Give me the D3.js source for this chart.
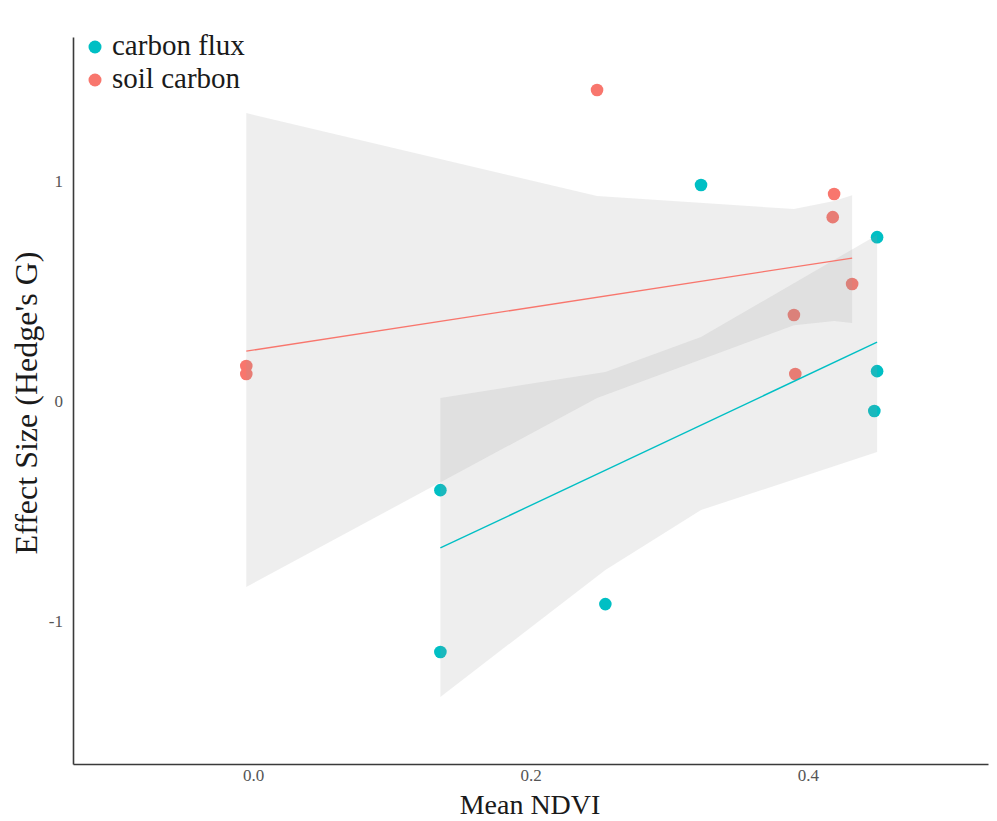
<!DOCTYPE html>
<html>
<head>
<meta charset="utf-8">
<script src="https://cdn.jsdelivr.net/npm/d3@7"></script>
<style>
  html, body { margin: 0; padding: 0; background: #ffffff; }
  svg { display: block; }
</style>
</head>
<body>
<svg id="chart" width="997" height="821"></svg>
<script>
// Groups and colours
const groups = ["carbon flux", "soil carbon"];
const groupColors = ["#00BFC4", "#F8766D"];

// Observations: mean NDVI vs effect size (Hedge's G)
const fluxNdvi   = [0.323, 0.450, 0.450, 0.448, 0.135, 0.254, 0.135];
const fluxEffect = [0.982, 0.745, 0.136, -0.045, -0.405, -0.923, -1.141];
const soilNdvi   = [-0.005, -0.005, 0.248, 0.419, 0.418, 0.432, 0.390, 0.391];
const soilEffect = [0.159, 0.123, 1.414, 0.941, 0.836, 0.532, 0.391, 0.123];

// Fitted lines (start and end of each fit)
const fluxFitX = [0.135, 0.450];
const fluxFitY = [-0.668, 0.268];
const soilFitX = [-0.005, 0.432];
const soilFitY = [0.227, 0.650];

// Confidence bands of each fit
const fluxBandX     = [0.135, 0.254, 0.323, 0.450];
const fluxBandUpper = [0.014, 0.132, 0.291, 0.755];
const fluxBandLower = [-1.345, -0.768, -0.495, -0.232];
const soilBandX     = [-0.005, 0.248, 0.390, 0.419, 0.432];
const soilBandUpper = [1.309, 0.932, 0.873, 0.909, 0.936];
const soilBandLower = [-0.845, 0.014, 0.345, 0.364, 0.355];

// Axis ticks
const xTicks = [0.0, 0.2, 0.4];
const yTicks = [-1, 0, 1];

const svg = d3.select("#chart");
const serif = "'Liberation Serif', 'DejaVu Serif', serif";

const x = d3.scaleLinear().domain([-0.13, 0.53]).range([73, 988]);
const y = d3.scaleLinear().domain([-1.65, 1.655]).range([764, 37]);

const series = [
  { name: groups[0], color: groupColors[0], xs: fluxNdvi, ys: fluxEffect,
    fitX: fluxFitX, fitY: fluxFitY, bandX: fluxBandX, bandU: fluxBandUpper, bandL: fluxBandLower },
  { name: groups[1], color: groupColors[1], xs: soilNdvi, ys: soilEffect,
    fitX: soilFitX, fitY: soilFitY, bandX: soilBandX, bandU: soilBandUpper, bandL: soilBandLower }
];

// Points first, bands and fit lines on top
series.forEach(s => {
  svg.append("g").selectAll("circle")
    .data(s.xs.map((v, i) => [v, s.ys[i]]))
    .join("circle")
    .attr("cx", d => x(d[0]))
    .attr("cy", d => y(d[1]))
    .attr("r", 6.3)
    .attr("fill", s.color);
});

const area = d3.area()
  .x(d => x(d.x))
  .y0(d => y(d.lo))
  .y1(d => y(d.hi));
const line = d3.line().x(d => x(d[0])).y(d => y(d[1]));

series.forEach(s => {
  const band = s.bandX.map((v, i) => ({ x: v, lo: s.bandL[i], hi: s.bandU[i] }));
  svg.append("path")
    .attr("d", area(band))
    .attr("fill", "#999999")
    .attr("fill-opacity", 0.17);
  svg.append("path")
    .attr("d", line(s.fitX.map((v, i) => [v, s.fitY[i]])))
    .attr("fill", "none")
    .attr("stroke", s.color)
    .attr("stroke-width", 1.4);
});

// Axes
const xAxis = svg.append("g")
  .attr("transform", `translate(0,${y.range()[0]})`)
  .call(d3.axisBottom(x).tickValues(xTicks).tickFormat(d3.format(".1f"))
    .tickSize(0).tickSizeOuter(0).tickPadding(5));
const yAxis = svg.append("g")
  .attr("transform", `translate(${x.range()[0]},0)`)
  .call(d3.axisLeft(y).tickValues(yTicks).tickFormat(d => String(d))
    .tickSize(0).tickSizeOuter(0).tickPadding(10));

[xAxis, yAxis].forEach(a => {
  a.select(".domain").attr("stroke", "#3a3a3a").attr("stroke-width", 1.6);
  a.selectAll(".tick text")
    .attr("fill", "#555555")
    .style("font-family", serif)
    .style("font-size", "17px");
});

// Axis titles
svg.append("text")
  .attr("x", 530).attr("y", 814)
  .attr("text-anchor", "middle")
  .style("font-family", serif).style("font-size", "28px")
  .attr("fill", "#1a1a1a")
  .text("Mean NDVI");
svg.append("text")
  .attr("transform", "translate(37,403) rotate(-90)")
  .attr("text-anchor", "middle")
  .style("font-family", serif).style("font-size", "32px")
  .attr("fill", "#1a1a1a")
  .text("Effect Size (Hedge's G)");

// Legend
const legend = svg.append("g");
groups.forEach((g, i) => {
  legend.append("circle")
    .attr("cx", 95).attr("cy", 47 + i * 33)
    .attr("r", 6.5)
    .attr("fill", groupColors[i]);
  legend.append("text")
    .attr("x", 112).attr("y", 55 + i * 33)
    .style("font-family", serif).style("font-size", "29px")
    .attr("fill", "#1a1a1a")
    .text(g);
});
</script>
</body>
</html>
